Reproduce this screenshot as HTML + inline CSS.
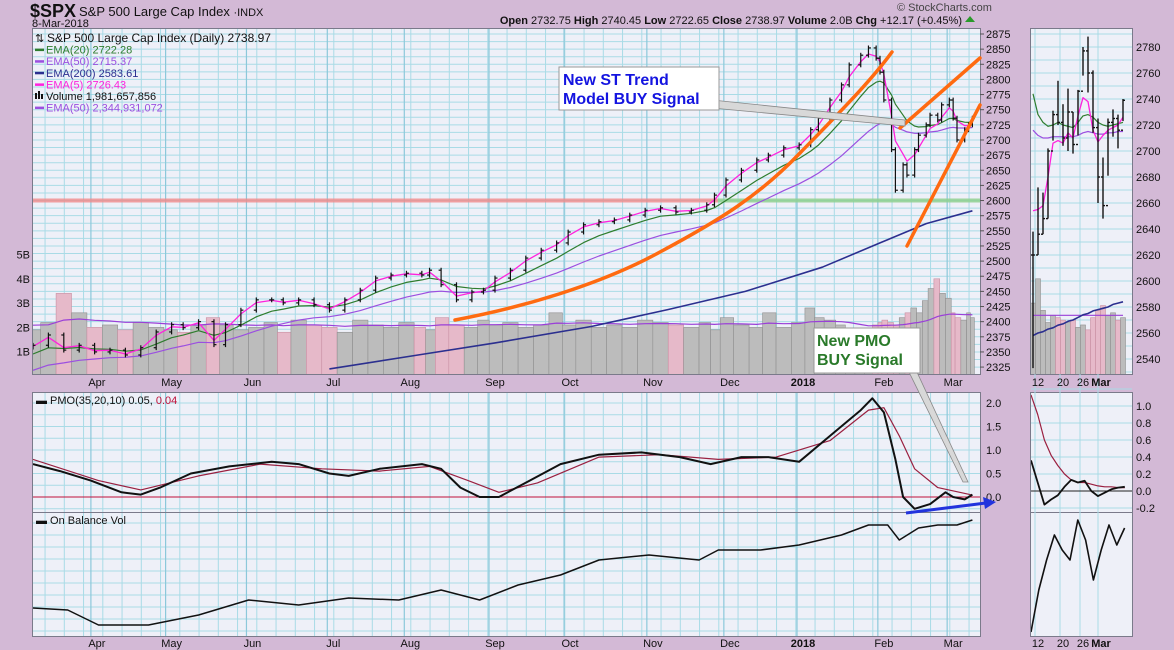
<!DOCTYPE html>
<html><head><meta charset="utf-8">
<style>
html,body{margin:0;padding:0;background:#d3b9d6;}
svg{display:block;font-family:"Liberation Sans",sans-serif;}
</style></head>
<body>
<svg id="c" width="1174" height="650" xmlns="http://www.w3.org/2000/svg">
<rect x="0" y="0" width="1174" height="650" fill="#d3b9d6"/>
<text x="30" y="17" font-size="18" font-weight="bold" fill="#111">$SPX</text>
<text x="79" y="16" font-size="13" fill="#111">S&amp;P 500 Large Cap Index <tspan font-size="11">·INDX</tspan></text>
<text x="32" y="27" font-size="11" fill="#111">8-Mar-2018</text>
<text x="897" y="11" font-size="11" fill="#444">© StockCharts.com</text>
<text x="962" y="24" font-size="11" fill="#111" text-anchor="end"><tspan font-weight="bold">Open</tspan> 2732.75 <tspan font-weight="bold">High</tspan> 2740.45 <tspan font-weight="bold">Low</tspan> 2722.65 <tspan font-weight="bold">Close</tspan> 2738.97 <tspan font-weight="bold">Volume</tspan> 2.0B <tspan font-weight="bold">Chg</tspan> +12.17 (+0.45%)</text>
<polygon points="965,22 975,22 970,16" fill="#2a9a2a"/>
<g id="g"></g>
</svg>
<script>
const closeDays=[0,4,8,12,16,20,24,28,32,36,39,43,47,50,54,58,62,65,69,73,77,81,85,89,93,97,101,103,106,110,114,117,120,124,128,132,136,139,143,147,151,155,159,163,167,171,175,177,180,184,188,191,195,199,202,204,207,210,212,215,217,219,220,221,223,224,226,227,229,230,232,233,235,236,238,239,240,242,243,244];
const closes=[2361,2378,2353,2361,2350,2353,2345,2357,2383,2395,2390,2400,2362,2395,2419,2436,2436,2431,2436,2428,2419,2436,2452,2472,2477,2480,2477,2485,2461,2436,2449,2452,2472,2485,2505,2518,2530,2548,2560,2565,2568,2576,2584,2588,2581,2584,2593,2609,2634,2650,2667,2675,2687,2692,2717,2736,2766,2791,2824,2840,2852,2835,2812,2766,2684,2617,2659,2642,2684,2708,2725,2741,2733,2758,2766,2736,2700,2717,2725,2736];
const volumes=[1.9,2.2,3.4,2.6,2.0,2.1,1.9,2.2,2.0,1.9,1.8,2.1,2.4,2.1,1.9,2.0,2.2,1.8,2.3,2.1,2.0,1.8,2.3,2.1,2.0,2.2,2.0,1.9,2.4,2.1,2.0,2.3,2.1,2.2,2.0,2.1,2.6,2.1,2.3,2.0,2.1,2.0,2.3,2.2,2.1,2.0,2.2,1.9,2.4,2.1,2.0,2.6,2.0,2.2,2.8,2.4,2.3,2.1,1.8,1.5,1.4,2.1,2.2,2.3,2.2,2.1,2.4,2.6,2.8,2.6,3.1,3.6,4.0,3.4,3.2,2.6,2.4,2.3,2.6,2.4];
const ema200Days=[77,100,120,145,165,185,205,220,232,244];
const ema200=[2322,2345,2365,2392,2420,2450,2490,2530,2562,2583];
const pmoDays=[0,7,15,23,28,33,41,51,62,69,77,82,90,101,106,111,116,121,129,137,147,158,168,176,184,191,199,207,215,218,221,224,226,229,233,237,239,242,244];
const pmo=[0.7,0.55,0.35,0.1,0.05,0.2,0.5,0.65,0.75,0.7,0.5,0.45,0.6,0.7,0.6,0.2,0.0,0.0,0.35,0.7,0.9,0.95,0.85,0.7,0.85,0.85,0.75,1.3,1.85,2.1,1.8,0.8,0.0,-0.25,-0.15,0.1,0.0,-0.05,0.05];
const sigDays=[0,17,28,43,59,75,90,103,113,121,131,147,163,178,193,207,217,221,225,229,235,244];
const pmoSignal=[0.8,0.35,0.15,0.45,0.7,0.6,0.55,0.65,0.35,0.1,0.3,0.85,0.9,0.8,0.85,1.2,1.85,1.9,1.3,0.6,0.2,0.04];
const obvDays=[0,9,17,30,43,56,69,82,95,106,116,126,137,147,160,173,178,189,199,210,217,222,225,230,235,240,244];
const obv=[28,26,11,11,21,36,31,38,36,46,36,51,61,76,81,76,86,86,91,101,111,111,96,108,111,111,116];
const monthLabels=["Apr","May","Jun","Jul","Aug","Sep","Oct","Nov","Dec","2018","Feb","Mar"];
const monthDays=[16.6,36,57,78,98,120,139.5,161,181,200,221,239];
const priceTicks=[2325,2350,2375,2400,2425,2450,2475,2500,2525,2550,2575,2600,2625,2650,2675,2700,2725,2750,2775,2800,2825,2850,2875];
const volTicks=["1B","2B","3B","4B","5B"];
const pmoTicks=[2.0,1.5,1.0,0.5,0.0];
const zHigh=[2638,2672,2668,2702,2731,2754,2736,2748,2730,2747,2780,2788,2762,2725,2695,2725,2732,2728,2740];
const zLow=[2533,2620,2636,2648,2708,2720,2704,2700,2698,2712,2758,2745,2714,2660,2648,2681,2711,2702,2723];
const zClose=[2620,2636,2648,2700,2728,2722,2710,2730,2705,2746,2777,2760,2718,2680,2658,2722,2725,2716,2739];
const zEma5=[2654,2655,2658,2680,2706,2708,2706,2714,2710,2727,2741,2738,2716,2707,2712,2716,2718,2720,2726];
const zEma20=[2744,2728,2722,2719,2720,2722,2720,2719,2718,2722,2727,2728,2726,2722,2720,2719,2720,2721,2722];
const zEma50=[2716,2712,2710,2710,2711,2711,2711,2711,2711,2712,2714,2715,2714,2713,2713,2714,2714,2715,2715];
const zEma200=[2558,2560,2561,2563,2564,2566,2567,2569,2570,2572,2574,2575,2577,2578,2579,2580,2582,2583,2584];
const zVol=[3.0,4.0,2.7,2.2,2.5,2.4,2.3,2.2,2.3,2.0,2.1,1.9,2.4,2.7,2.9,2.5,2.6,2.3,2.4];
const zPmo=[0.36,0.1,-0.16,-0.1,-0.05,0.05,0.13,0.1,0.12,0.0,-0.06,-0.02,0.02,0.04,0.05];
const zSig=[1.13,0.9,0.6,0.42,0.3,0.2,0.13,0.1,0.1,0.08,0.06,0.05,0.05,0.04,0.04];
const zObv=[4,46,76,101,86,76,116,96,56,86,111,91,108];
const zLabels=["12","20","26","Mar"];
const zLabelIdx=[1,6,10,13.6];

const NS="http://www.w3.org/2000/svg";
const G=document.getElementById('g');
function mk(tag,attrs,parent){const e=document.createElementNS(NS,tag);for(const k in attrs)e.setAttribute(k,attrs[k]);(parent||G).appendChild(e);return e;}
const X0=33,DX=3.85;
const xD=d=>X0+d*DX;
const yP=p=>34+(2875-p)/25*15.14;
const yV=v=>376-v*24.3;
const yM=v=>497-v*47;
const yO=v=>636-v;
const ZX=i=>1033+i*5;
const yR=p=>47+(2780-p)/20*26;
const yRM=v=>491-v*85;
const GRID="#a9dbe6";

function panel(x,y,w,h,name){
  const r=mk('rect',{x:x,y:y,width:w,height:h,fill:"#eef0f8",stroke:"#7a7a8a","stroke-width":1});
  
  
}
panel(32.5,28.5,948,346,'price-panel');
panel(32.5,392.5,948,120,'pmo-panel');
panel(32.5,512.5,948,124,'obv-panel');
panel(1030.5,28.5,102,346,'zoom-price-panel');
panel(1030.5,392.5,102,120,'zoom-pmo-panel');
panel(1030.5,512.5,102,124,'zoom-obv-panel');

const defs=mk('defs',{});
function clip(id,x,y,w,h){const c=mk('clipPath',{id:id},defs);mk('rect',{x:x,y:y,width:w,height:h},c);}
clip('cp',33,29,947,345);clip('cm',33,393,947,119);clip('co',33,513,947,123);
clip('zp',1031,29,101,345);clip('zm',1031,393,101,119);clip('zo',1031,513,101,123);

const gp=mk('g',{"clip-path":"url(#cp)"});
for(let p=2312.5;p<=2900;p+=12.5){mk('line',{x1:33,x2:980,y1:yP(p),y2:yP(p),stroke:GRID,"stroke-width":1},gp);}
function vgrid(g,y1,y2){for(let d=-2;d<250;d+=5){mk('line',{x1:xD(d)+0.5,x2:xD(d)+0.5,y1:y1,y2:y2,stroke:GRID,"stroke-width":1},g);}
  monthDays.forEach(d=>mk('line',{x1:xD(d)-6,x2:xD(d)-6,y1:y1,y2:y2,stroke:"#8cc8da","stroke-width":1.2},g));}
vgrid(gp,29,374);
const gm=mk('g',{"clip-path":"url(#cm)"});
for(let v=-0.25;v<=2.3;v+=0.25){mk('line',{x1:33,x2:980,y1:yM(v),y2:yM(v),stroke:GRID},gm);}
vgrid(gm,393,512);
const go=mk('g',{"clip-path":"url(#co)"});
for(let y=523;y<636;y+=12){mk('line',{x1:33,x2:980,y1:y,y2:y,stroke:GRID},go);}
vgrid(go,513,636);
const zg=mk('g',{});
for(let p=2530;p<=2790;p+=10){const y=yR(p);if(y>29&&y<374)mk('line',{x1:1031,x2:1132,y1:y,y2:y,stroke:GRID},zg);}
for(let v=-0.2;v<=1.21;v+=0.2){mk('line',{x1:1031,x2:1132,y1:yRM(v),y2:yRM(v),stroke:GRID},zg);}
zLabelIdx.forEach(i=>{mk('line',{x1:ZX(i)-3,x2:ZX(i)-3,y1:29,y2:636,stroke:GRID},zg);});

const gv=mk('g',{"clip-path":"url(#cp)"});
const n=Math.min(closeDays.length,closes.length,volumes.length);
for(let i=0;i<n;i++){
  const x1=i==0?xD(closeDays[0])-2:(xD(closeDays[i-1])+xD(closeDays[i]))/2;
  const x2=i==n-1?xD(closeDays[i])+2:(xD(closeDays[i])+xD(closeDays[i+1]))/2;
  const down=i>0&&closes[i]<closes[i-1];
  const r=mk('rect',{x:x1,y:yV(volumes[i]),width:Math.max(1,x2-x1),height:376-yV(volumes[i]),fill:down?"#e6b9c9":"#bcbcbc",stroke:down?"#c88fa2":"#8f8f8f","stroke-width":0.6},gv);
  
  
}
function emaSeries(vals,days,alpha,seed){let e=seed,out=[],pd=days[0];for(let i=0;i<vals.length;i++){const k=Math.max(1,days[i]-pd);pd=days[i];e=vals[i]+(e-vals[i])*Math.pow(1-alpha,k);out.push(e);}return out;}
const vEma=emaSeries(volumes,closeDays,2/51,2.1);
function poly(pts,color,w,parent,name){const e=mk('polyline',{points:pts.map(p=>p[0].toFixed(1)+','+p[1].toFixed(1)).join(' '),fill:"none",stroke:color,"stroke-width":w,"stroke-linejoin":"round"},parent);return e;}
poly(vEma.map((v,i)=>[xD(closeDays[i]),yV(v)]),"#9a3fd8",1.2,gv,'volume-ema50-line');

const hl1=mk('line',{x1:33,x2:718,y1:yP(2600),y2:yP(2600),stroke:"#f08a8a","stroke-width":4,"stroke-opacity":0.8});

const hl2=mk('line',{x1:718,x2:980,y1:yP(2600),y2:yP(2600),stroke:"#8fd08f","stroke-width":4,"stroke-opacity":0.85});


const pg=mk('g',{"clip-path":"url(#cp)"});
poly(ema200Days.map((d,i)=>[xD(d),yP(ema200[i])]),"#2b2f8f",1.6,pg,'ema200-line');
const e50=emaSeries(closes,closeDays,2/51,2318);
poly(e50.map((v,i)=>[xD(closeDays[i]),yP(v)]),"#9b4fe0",1.2,pg,'ema50-line');
const e20=emaSeries(closes,closeDays,2/21,2345);
poly(e20.map((v,i)=>[xD(closeDays[i]),yP(v)]),"#2e7d2e",1.2,pg,'ema20-line');
const e5=emaSeries(closes,closeDays,2/6,2358);
poly(e5.map((v,i)=>[xD(closeDays[i]),yP(v)]),"#ff22dd",1.3,pg,'ema5-line');
for(let i=0;i<n;i++){
  const x=xD(closeDays[i]);const o=i>0?closes[i-1]:closes[0]-3;const c=closes[i];
  const hi=Math.max(o,c)+4,lo=Math.min(o,c)-4;
  const b=mk('g',{stroke:"#111","stroke-width":1.2},pg);
  
  
  mk('line',{x1:x,x2:x,y1:yP(hi),y2:yP(lo)},b);
  mk('line',{x1:x-2.5,x2:x,y1:yP(o),y2:yP(o)},b);
  mk('line',{x1:x,x2:x+2.5,y1:yP(c),y2:yP(c)},b);
}
const tr=mk('g',{stroke:"#ff6a10","stroke-width":3.5,fill:"none","stroke-linecap":"round","stroke-linejoin":"round"});

mk('path',{d:"M455,320 C520,308 600,285 660,252 C720,220 760,195 800,153 C840,112 870,82 892,52"},tr);
mk('line',{x1:907,y1:246,x2:980,y2:105},tr);
mk('line',{x1:900,y1:128,x2:980,y2:58},tr);

const lg=mk('g',{"font-size":11});
const leg=[["S&P 500 Large Cap Index (Daily) 2738.97","#111"],["EMA(20) 2722.28","#2e7d2e"],["EMA(50) 2715.37","#9b4fe0"],["EMA(200) 2583.61","#2b2f8f"],["EMA(5) 2726.43","#ff22dd"],["Volume 1,981,657,856","#111"],["EMA(50) 2,344,931,072","#9b4fe0"]];
leg.forEach((l,i)=>{const y=38+i*11.6;
  const t=mk('text',{x:i==0?47:46,y:y+4,fill:l[1],"font-size":i==0?12:11},lg);t.textContent=l[0];
  
  if(i>0&&i!=5)mk('rect',{x:35,y:y-1,width:9,height:2.5,fill:l[1]},lg);
  if(i==5){mk('rect',{x:35,y:y-3,width:2,height:6,fill:"#111"},lg);mk('rect',{x:38,y:y-5,width:2,height:8,fill:"#111"},lg);mk('rect',{x:41,y:y-2,width:2,height:5,fill:"#111"},lg);}
  if(i==0){mk('text',{x:35,y:y+4,"font-size":11,fill:"#111"},lg).textContent="⇅";}
});

const ax=mk('g',{"font-size":11,fill:"#111"});
priceTicks.forEach(p=>{const y=yP(p);mk('line',{x1:980,x2:984,y1:y,y2:y,stroke:"#555"},ax);const t=mk('text',{x:986,y:y+4},ax);t.textContent=p;});
const vax=mk('g',{"font-size":11,fill:"#111","text-anchor":"end"});
volTicks.forEach((s,i)=>{const t=mk('text',{x:30,y:yV(i+1)+4},vax);t.textContent=s;});
const xax=mk('g',{"font-size":11,fill:"#111","text-anchor":"middle"});
monthLabels.forEach((m,i)=>{const x=xD(monthDays[i]);const t1=mk('text',{x:x,y:386,"font-weight":m=="2018"?"bold":"normal"},xax);t1.textContent=m;const t2=mk('text',{x:x,y:647,"font-weight":m=="2018"?"bold":"normal"},xax);t2.textContent=m;});

const mg=mk('g',{"clip-path":"url(#cm)"});
mk('line',{x1:33,x2:980,y1:yM(0),y2:yM(0),stroke:"#c0103a","stroke-width":1},mg);
poly(sigDays.map((d,i)=>[xD(d),yM(pmoSignal[i])]),"#9a2040",1.2,mg,'pmo-signal-line');
poly(pmoDays.map((d,i)=>[xD(d),yM(pmo[i])]),"#111",2,mg,'pmo-line');
const pmax=mk('g',{"font-size":11,fill:"#111"});
pmoTicks.forEach(v=>{const t=mk('text',{x:986,y:yM(v)+4},pmax);t.textContent=v.toFixed(1);});
const pl=mk('text',{x:36,y:404,"font-size":11,fill:"#111"});pl.innerHTML='<tspan fill="#111">▬ PMO(35,20,10) 0.05, </tspan><tspan fill="#c0103a">0.04</tspan>';


const og=mk('g',{"clip-path":"url(#co)"});
poly(obvDays.map((d,i)=>[xD(d),yO(obv[i])]),"#111",1.5,og,'obv-line');
const ol=mk('text',{x:36,y:524,"font-size":11,fill:"#111"});ol.textContent="▬ On Balance Vol";


const zp=mk('g',{"clip-path":"url(#zp)"});
zVol.forEach((v,i)=>{const down=i>0&&zClose[i]<zClose[i-1];const r=mk('rect',{x:ZX(i)-2.5,y:yV(v),width:5,height:376-yV(v),fill:down?"#e6b9c9":"#bcbcbc",stroke:down?"#c88fa2":"#8f8f8f","stroke-width":0.6},zp);});
poly(zVol.map((v,i)=>[ZX(i),yV(2.5)]),"#9a3fd8",1.2,zp,'zoom-volume-ema-line');
poly(zEma200.map((v,i)=>[ZX(i),yR(v)]),"#2b2f8f",1.6,zp,'zoom-ema200-line');
poly(zEma50.map((v,i)=>[ZX(i),yR(v)]),"#9b4fe0",1.2,zp,'zoom-ema50-line');
poly(zEma20.map((v,i)=>[ZX(i),yR(v)]),"#2e7d2e",1.2,zp,'zoom-ema20-line');
poly(zEma5.map((v,i)=>[ZX(i),yR(v)]),"#ff22dd",1.3,zp,'zoom-ema5-line');
zHigh.forEach((h,i)=>{const x=ZX(i);const o=i>0?zClose[i-1]:zClose[0];const b=mk('g',{stroke:"#111","stroke-width":1.4},zp);
  
  mk('line',{x1:x,x2:x,y1:yR(h),y2:yR(zLow[i])},b);mk('line',{x1:x-2,x2:x,y1:yR(o),y2:yR(o)},b);mk('line',{x1:x,x2:x+2,y1:yR(zClose[i]),y2:yR(zClose[i])},b);});
const zax=mk('g',{"font-size":11,fill:"#111"});
for(let p=2540;p<=2780;p+=20){const t=mk('text',{x:1136,y:yR(p)+4},zax);t.textContent=p;}
for(let v=-0.2;v<=1.01;v+=0.2){const t=mk('text',{x:1136,y:yRM(v)+4},zax);t.textContent=(Math.abs(v)<1e-9?0:v).toFixed(1);}
zLabels.forEach((s,i)=>{const t=mk('text',{x:ZX(zLabelIdx[i]),y:386,"text-anchor":"middle","font-weight":s=="Mar"?"bold":"normal"},zax);t.textContent=s;const t2=mk('text',{x:ZX(zLabelIdx[i]),y:647,"text-anchor":"middle","font-weight":s=="Mar"?"bold":"normal"},zax);t2.textContent=s;});
const zm=mk('g',{"clip-path":"url(#zm)"});
mk('line',{x1:1031,x2:1132,y1:yRM(0),y2:yRM(0),stroke:"#222"},zm);
poly(zSig.map((v,i)=>[1031+i*6.7,yRM(v)]),"#9a2040",1.2,zm,'zoom-pmo-signal-line');
poly(zPmo.map((v,i)=>[1031+i*6.7,yRM(v)]),"#111",1.8,zm,'zoom-pmo-line');
const zo=mk('g',{"clip-path":"url(#zo)"});
poly(zObv.map((v,i)=>[1031+i*7.8,yO(v)]),"#111",1.6,zo,'zoom-obv-line');

const a1=mk('g',{});
mk('polygon',{points:"712,100 905,120 905,126 712,108",fill:"#d8d8d8",stroke:"#888","stroke-width":0.8},a1);
mk('rect',{x:559,y:67,width:160,height:43,fill:"#fff",stroke:"#999"},a1);
const t1=mk('text',{x:563,y:85,"font-size":16,"font-weight":"bold",fill:"#1414e0"},a1);t1.textContent="New ST Trend";
const t1b=mk('text',{x:563,y:104,"font-size":16,"font-weight":"bold",fill:"#1414e0"},a1);t1b.textContent="Model BUY Signal";
const a2=mk('g',{});
mk('polygon',{points:"908,370 916,370 968,482 963,482",fill:"#d8d8d8",stroke:"#888","stroke-width":0.8},a2);
mk('rect',{x:814,y:328,width:106,height:45,fill:"#fff",stroke:"#999"},a2);
const t2=mk('text',{x:817,y:346,"font-size":16,"font-weight":"bold",fill:"#2a7a2a"},a2);t2.textContent="New PMO";
const t2b=mk('text',{x:817,y:365,"font-size":16,"font-weight":"bold",fill:"#2a7a2a"},a2);t2b.textContent="BUY Signal";
const ar=mk('g',{});
mk('line',{x1:906,y1:513,x2:986,y2:503,stroke:"#2233dd","stroke-width":3},ar);
mk('polygon',{points:"996,502 983,497 985,509",fill:"#2233dd"},ar);
</script>
</body></html>
